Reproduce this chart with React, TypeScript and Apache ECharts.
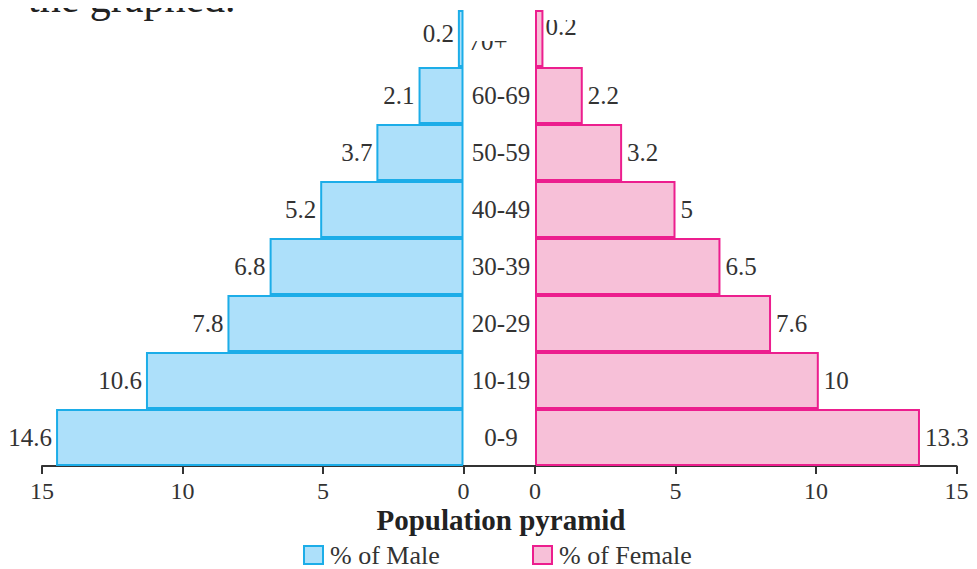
import React, { useEffect, useRef } from "react";
import * as echarts from "echarts";

// ---- data ----
const ageGroups = ["0-9", "10-19", "20-29", "30-39", "40-49", "50-59", "60-69", "70+"];
// bar lengths as drawn in the figure
const maleBarLengths = [14.5, 11.3, 8.4, 6.9, 5.1, 3.1, 1.6, 0.2];
const femaleBarLengths = [13.7, 10.1, 8.4, 6.6, 5.0, 3.1, 1.7, 0.3];
// values printed next to the bars
const maleLabels = ["14.6", "10.6", "7.8", "6.8", "5.2", "3.7", "2.1", "0.2"];
const femaleLabels = ["13.3", "10", "7.6", "6.5", "5", "3.2", "2.2", "0.2"];
const xTicks = [0, 5, 10, 15];
const seriesNames = ["% of Male", "% of Female"];

const FONT = "Liberation Serif";
const TEXT = "#333";

export default function App() {
  const ref = useRef<HTMLDivElement>(null);

  useEffect(() => {
    if (!ref.current) return;
    const chart = echarts.init(ref.current, undefined, { renderer: "svg" });
    const step = xTicks[1] - xTicks[0];
    const xAxisBase = (gridIndex: number, inverse: boolean) => ({
      gridIndex,
      type: "value",
      inverse,
      min: xTicks[0],
      max: xTicks[xTicks.length - 1],
      interval: step,
      axisLine: { show: true, lineStyle: { color: "#333", width: 2 } },
      axisTick: { show: true, length: 8, lineStyle: { color: "#333", width: 2 } },
      axisLabel: { margin: 13, fontSize: 24, color: TEXT, fontFamily: FONT },
      splitLine: { show: false },
    });
    const lastIdx = ageGroups.length - 1;
    const legendText = { fontFamily: FONT, fontSize: 26, color: TEXT, lineHeight: 26, padding: [0, 0, 0, 2] };
    const option: any = {
      animation: false,
      textStyle: { fontFamily: FONT },
      title: {
        text: "Population pyramid",
        left: 501,
        top: 506,
        textAlign: "center",
        padding: 0,
        textStyle: { fontFamily: FONT, fontSize: 29, fontWeight: "bold", color: "#222", lineHeight: 28 },
      },
      legend: [
        {
          data: [seriesNames[0]],
          left: 303,
          top: 542,
          padding: 0,
          icon: "rect",
          itemWidth: 19,
          itemHeight: 18,
          textStyle: legendText,
        },
        {
          data: [seriesNames[1]],
          left: 532,
          top: 542,
          padding: 0,
          icon: "rect",
          itemWidth: 19,
          itemHeight: 18,
          textStyle: legendText,
        },
      ],
      grid: [
        { left: 42, width: 421.5, top: 10, height: 456 },
        { left: 535, width: 421.5, top: 10, height: 456 },
      ],
      xAxis: [xAxisBase(0, true), xAxisBase(1, false)],
      yAxis: [
        { gridIndex: 0, type: "category", data: ageGroups, show: false },
        {
          gridIndex: 1,
          type: "category",
          data: ageGroups,
          axisLine: { show: false },
          axisTick: { show: false },
          axisLabel: {
            margin: 34,
            align: "center",
            fontSize: 25,
            color: TEXT,
            fontFamily: FONT,
            formatter: (v: string) => (v === ageGroups[lastIdx] ? `{top|${v}}` : v),
            rich: {
              top: { fontSize: 25, fontFamily: FONT, color: TEXT, padding: [6, 26, 0, 0] },
            },
          },
        },
      ],
      series: [
        {
          name: seriesNames[0],
          type: "bar",
          xAxisIndex: 0,
          yAxisIndex: 0,
          barCategoryGap: "0%",
          data: maleBarLengths.map((v, i) =>
            i === lastIdx ? { value: v, label: { offset: [0, -5] } } : v
          ),
          itemStyle: { color: "#ade0fa", borderColor: "#1cade8", borderWidth: 2 },
          label: {
            show: true,
            position: "left",
            distance: 4,
            fontSize: 25,
            color: TEXT,
            fontFamily: FONT,
            formatter: (p: any) => maleLabels[p.dataIndex],
          },
        },
        {
          name: seriesNames[1],
          type: "bar",
          xAxisIndex: 1,
          yAxisIndex: 1,
          barCategoryGap: "0%",
          data: femaleBarLengths.map((v, i) =>
            i === lastIdx ? { value: v, label: { offset: [-3, -12] } } : v
          ),
          itemStyle: { color: "#f7c0d8", borderColor: "#ec1e8e", borderWidth: 2 },
          label: {
            show: true,
            position: "right",
            distance: 5,
            fontSize: 25,
            color: TEXT,
            fontFamily: FONT,
            formatter: (p: any) => femaleLabels[p.dataIndex],
          },
        },
      ],
      graphic: [
        {
          type: "line",
          z: 50,
          shape: { x1: 463, y1: 466, x2: 536, y2: 466 },
          style: { stroke: "#333", lineWidth: 2 },
        },
        {
          type: "text",
          z: 90,
          x: 28,
          y: -2,
          style: {
            text: "the graphed.",
            fontSize: 42,
            fontFamily: FONT,
            fill: "#222",
            align: "left",
            verticalAlign: "middle",
          },
        },
        {
          type: "rect",
          z: 100,
          shape: { x: 0, y: 0, width: 300, height: 8 },
          style: { fill: "#fff" },
        },
        {
          type: "rect",
          z: 100,
          shape: { x: 467, y: 0, width: 66, height: 41 },
          style: { fill: "#fff" },
        },
        {
          type: "rect",
          z: 100,
          shape: { x: 547, y: 0, width: 50, height: 20 },
          style: { fill: "#fff" },
        },
      ],
    };
    chart.setOption(option);
    return () => chart.dispose();
  }, []);

  return (
    <div
      ref={ref}
      style={{ position: "fixed", left: 0, top: 0, width: 977, height: 569, background: "#fff" }}
    />
  );
}
